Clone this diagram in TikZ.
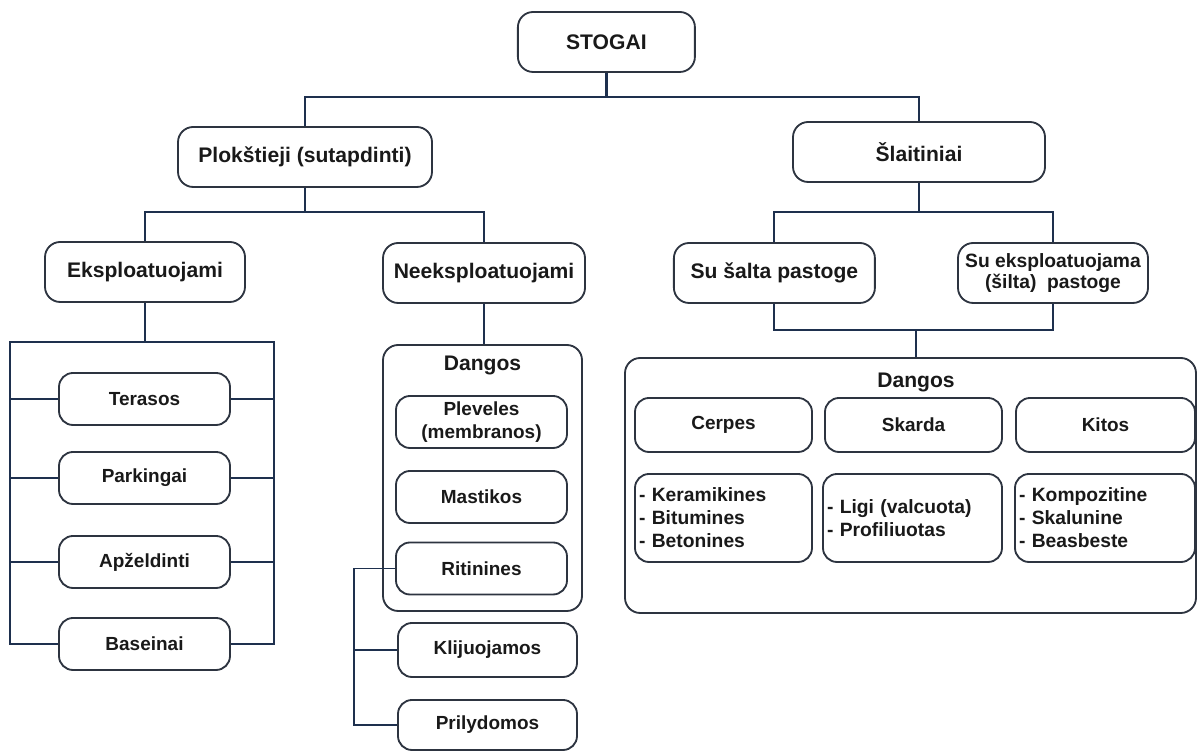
\documentclass[tikz,border=0pt]{standalone}
\usepackage{fontspec}
\setmainfont{Liberation Sans}
\usepackage{tikz}
\usetikzlibrary{calc}
\definecolor{boxline}{RGB}{45,52,64}
\definecolor{linkline}{RGB}{30,48,78}
\def\headfont{\fontsize{15}{18}\selectfont\bfseries}
\def\leaffont{\fontsize{13.5}{16.3}\selectfont\bfseries}
\def\listfont{\fontsize{13.7}{16.3}\selectfont\bfseries}

\begin{document}
\begin{tikzpicture}[
	headbox/.style={draw=boxline, line width=1.3pt, rounded corners=0.38cm, minimum height=1.5cm, inner sep=0pt, align=center, font=\headfont, text=black!90},
	leafbox/.style={draw=boxline, line width=1.3pt, rounded corners=0.35cm, minimum width=4.275cm, minimum height=1.3cm, inner sep=0pt, align=center, font=\leaffont, text=black!90},
	listbox/.style={draw=boxline, line width=1.3pt, rounded corners=0.35cm, minimum height=2.2cm, inner xsep=0.1cm, inner ysep=0pt, align=left, font=\listfont, text=black!90},
	frame/.style={draw=boxline, line width=1.3pt, rounded corners=0.38cm, inner sep=0pt},
	link/.style={draw=linkline, line width=1.4pt},
	stem/.style={draw=linkline, line width=2pt},
	thinlink/.style={draw=linkline, line width=1pt}
]
			%%%%% START %%%%%
			
			\useasboundingbox (0, 0) rectangle (29.95, 18.775);
			
			\node[headbox, minimum width=4.425cm] (stogai) at (15.16, 17.725) {STOGAI};
			\node[headbox, minimum width=6.35cm] (plok) at (7.625, 14.85) {Plokštieji (sutapdinti)};
			\node[headbox, minimum width=6.3cm] (slait) at (22.975, 14.975) {Šlaitiniai};
			
			\coordinate (topjunc) at (15.16, 16.35);
			\draw[stem] (stogai.south) -- (topjunc);
			\draw[link] (plok.north) |- (topjunc) -| (slait.north);
			
			\node[headbox, minimum width=5cm] (ekspl) at (3.625, 11.975) {Eksploatuojami};
			\node[headbox, minimum width=5.05cm] (neekspl) at (12.1, 11.95) {Neeksploatuojami};
			\node[headbox, minimum width=5.025cm] (salta) at (19.36, 11.95) {Su šalta pastoge};
			\node[headbox, minimum width=4.75cm, font={\fontsize{13.7}{15.4}\selectfont\bfseries}] (silta) at (26.325, 11.95) {Su eksploatuojama\\(šilta)~ pastoge};
			
			\coordinate (pljunc) at (7.625, 13.475);
			\draw[stem] (plok.south) -- (pljunc);
			\draw[link] (ekspl.north) |- (pljunc) -| (neekspl.north);
			
			\coordinate (sljunc) at (22.975, 13.475);
			\draw[stem] (slait.south) -- (sljunc);
			\draw[link] (salta.north) |- (sljunc) -| (silta.north);
			
			% eksploatuojami
			\node[leafbox] (terasos) at (3.6125, 8.8) {Terasos};
			\node[leafbox] (parkingai) at (3.6125, 6.825) {Parkingai};
			\node[leafbox] (apzeld) at (3.6125, 4.725) {Apželdinti};
			\node[leafbox] (baseinai) at (3.6125, 2.675) {Baseinai};
			
			\coordinate (brL) at (0.25, 10.225);
			\coordinate (brR) at (6.85, 10.225);
			\draw[link] (ekspl.south) -- (ekspl.south |- brL);
			\draw[link] (baseinai.west) -| (brL) -- (brR) |- (baseinai.east);
			\foreach \n in {terasos, parkingai, apzeld} {
				\draw[link] (brL |- \n.west) -- (\n.west);
				\draw[link] (\n.east) -- (brR |- \n.east);
			}
			
			% neeksploatuojami
			\node[frame, minimum width=4.975cm, minimum height=6.65cm] (dangosA) at (12.0625, 6.825) {};
			\node[font=\headfont, text=black!90] (dangosAlbl) at (12.0625, 9.65) {Dangos};
			\draw[stem] (neekspl.south) -- (neekspl.south |- dangosA.north);
			
			\node[leafbox] (pleveles) at (12.0375, 8.225) {Pleveles\\(membranos)};
			\node[leafbox] (mastikos) at (12.0375, 6.35) {Mastikos};
			\node[leafbox] (ritinines) at (12.0375, 4.5625) {Ritinines};
			\node[leafbox, minimum width=4.475cm, minimum height=1.35cm] (klijuojamos) at (12.1875, 2.525) {Klijuojamos};
			\node[leafbox, minimum width=4.475cm, minimum height=1.25cm] (prilydomos) at (12.1875, 0.65) {Prilydomos};
			
			\coordinate (ritL) at (8.85, 4.5625);
			\draw[thinlink] (ritinines.west) -- (ritL) |- (prilydomos.west);
			\draw[thinlink] (ritL |- klijuojamos.west) -- (klijuojamos.west);
			
			% slaitiniai
			\coordinate (dgjunc) at (22.9, 10.525);
			\draw[link] (salta.south) |- (dgjunc) -| (silta.south);
			
			\node[frame, minimum width=14.275cm, minimum height=6.375cm] (dangosB) at (22.7625, 6.6375) {};
			\node[font=\headfont, text=black!90] (dangosBlbl) at (22.9, 9.225) {Dangos};
			\draw[stem] (dgjunc) -- (dgjunc |- dangosB.north);
			
			\node[leafbox, minimum width=4.425cm, minimum height=1.35cm] (cerpes) at (18.0875, 8.15) {Cerpes};
			\node[leafbox, minimum width=4.425cm, minimum height=1.35cm] (skarda) at (22.8375, 8.15) {Skarda};
			\node[leafbox, minimum width=4.475cm, minimum height=1.35cm] (kitos) at (27.6375, 8.15) {Kitos};
			
			\node[listbox, text width=4.225cm] (keram) at (18.0875, 5.825) {- Keramikines\\- Bitumines\\- Betonines};
			\node[listbox, text width=4.275cm] (ligi) at (22.8125, 5.825) {- Ligi (valcuota)\\- Profiliuotas};
			\node[listbox, text width=4.3cm] (kompoz) at (27.625, 5.825) {- Kompozitine\\- Skalunine\\- Beasbeste};
			
			%%%%% END %%%%%
\end{tikzpicture}
\end{document}
